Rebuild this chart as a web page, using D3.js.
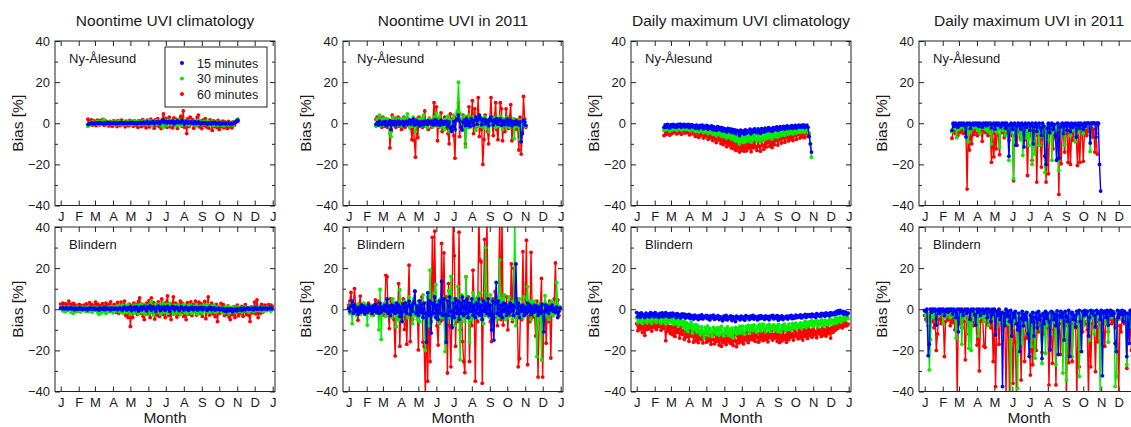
<!DOCTYPE html>
<html><head><meta charset="utf-8">
<script src="https://cdn.jsdelivr.net/npm/d3@7"></script>
<style>
html,body{margin:0;padding:0;background:#fff;}
svg{display:block;font-family:"Liberation Sans",Arial,Helvetica,sans-serif;}
</style></head>
<body>
<svg id="chart" width="1131" height="427"></svg>
<script>
// ---------- categories / labels ----------
const monthLabels = ["J","F","M","A","M","J","J","A","S","O","N","D","J"];
const monthStartDays = [1,32,60,91,121,152,182,213,244,274,305,335,366];
const panelTitles = ["Noontime UVI climatology","Noontime UVI in 2011","Daily maximum UVI climatology","Daily maximum UVI in 2011"];
const stationNames = ["Ny-Ålesund","Blindern"];
const seriesNames = ["15 minutes","30 minutes","60 minutes"];
const yMajorTicks = [-40,-20,0,20,40];
const yMinorTicks = [-30,-10,10,30];
const nyFirstDay = 48;   // first day of year with data at Ny-Ålesund
const blFirstDay = 1;    // first day of year with data at Blindern
const dayStep = 2;       // values are read every second day

// ---------- Ny-Ålesund, noontime UVI climatology ----------
const nyNoonClim15 = [
-0.5,-0.3,-0.2,0.1,-0.2,0.0,-0.3,0.1,-0.1,0.2,
-0.1,0.0,0.2,-0.2,0.1,0.3,-0.1,0.0,0.2,-0.2,
0.1,-0.1,0.2,0.0,-0.3,0.1,0.2,-0.1,0.0,0.3,
-0.2,0.1,0.3,0.0,-0.1,0.2,0.4,-0.1,0.1,0.3,
0.0,0.2,-0.2,0.3,0.1,0.4,-0.1,0.2,0.5,0.0,
0.3,0.6,-0.2,0.4,0.1,0.5,0.8,0.0,0.3,0.6,
0.2,0.7,-0.3,0.5,1.2,1.5,0.4,0.8,0.1,0.6,
0.9,0.2,0.5,1.0,-0.2,0.6,0.3,1.1,0.4,0.2,
0.8,1.3,0.3,-0.4,0.6,0.9,0.1,0.5,0.2,0.7,
0.0,0.4,0.8,-0.2,0.3,0.6,0.1,-0.3,0.4,0.2,
-0.2,0.3,0.1,-0.4,0.2,0.0,-0.3,0.3,-0.1,0.2,
-0.3,0.1,-0.2,0.2,-0.4,0.0,-0.2,0.1,-0.3,0.0,
-0.2,0.1,-0.3,0.0,-0.4,-0.1,0.2,0.5,1.0,1.5];
const nyNoonClim30 = [
-1.5,-0.8,0.2,-0.5,0.6,-0.7,0.3,-0.4,0.8,-0.3,
0.5,-0.6,0.9,0.2,1.8,-0.2,0.4,-0.5,0.7,0.0,
-0.4,0.6,-0.3,0.5,-0.8,0.3,0.9,-0.2,0.4,-0.6,
0.2,0.8,-0.5,0.3,0.6,-0.4,1.0,0.1,-0.7,0.5,
0.9,-0.3,0.4,1.2,-0.6,0.2,0.8,-0.4,1.1,0.3,
-0.5,0.9,0.2,1.4,-0.8,0.6,1.0,-0.3,0.7,1.3,
-0.6,0.5,1.2,-1.0,0.8,-2.0,1.5,0.3,-0.9,1.1,
0.4,1.6,-0.7,0.9,0.2,1.3,-1.2,0.6,1.8,-0.4,
0.8,-1.0,1.4,0.3,-0.6,1.0,0.5,-0.8,1.2,0.1,
-0.5,0.9,0.3,-1.2,0.6,1.4,-0.3,0.8,-0.7,0.4,
0.9,-0.5,0.2,1.0,-0.9,0.4,-0.3,0.7,-1.1,0.3,
-0.6,0.5,-1.0,0.2,0.6,-0.8,0.1,-1.2,0.4,-0.5,
0.3,-0.9,0.2,-0.6,0.4,-1.0,0.5,0.9,1.6,2.0];
const nyNoonClim60 = [
2.0,1.0,-0.5,1.6,-1.0,1.2,0.4,-1.2,1.5,0.2,
-0.8,1.4,0.0,1.9,-1.0,1.1,-0.6,0.8,-1.3,0.9,
0.4,-1.4,1.2,-0.3,0.9,-1.6,1.3,0.2,-1.1,1.5,
-0.4,0.8,-1.7,1.0,0.3,-1.2,1.4,-0.6,0.9,-1.5,
1.2,-0.8,0.6,-2.0,1.3,0.1,-1.6,1.7,-0.9,0.8,
-2.2,1.5,0.3,-1.8,2.0,-0.7,1.0,-2.4,1.6,-1.0,
2.2,-1.5,0.6,-2.6,1.8,4.5,-1.2,2.4,-2.0,0.9,
3.0,-1.8,1.4,-2.2,2.6,-0.8,1.9,-2.5,0.7,2.0,
3.4,-1.4,6.0,-2.0,1.2,-5.0,2.2,-1.6,3.0,-0.5,
1.8,-2.4,0.9,-1.2,2.8,4.0,-1.8,1.0,-2.6,1.5,
-1.0,2.2,-1.8,0.6,-2.4,1.6,-0.4,-3.5,1.2,-1.6,
0.8,-2.0,1.4,-3.0,0.4,-1.6,1.0,-2.2,0.6,-1.4,
-2.5,0.9,-1.8,0.2,-2.2,0.6,-1.0,0.3,1.2,0.8];

// ---------- Ny-Ålesund, noontime UVI 2011 ----------
const nyNoon2011_15 = [
-0.5,0.3,-0.8,1.0,0.2,-0.6,0.5,-0.3,0.8,-1.0,
0.4,-0.5,1.2,-3.0,0.6,-0.4,0.9,-0.8,0.3,1.1,
-0.6,0.5,-0.2,0.8,-1.2,0.4,1.0,-0.5,0.7,1.5,
-0.4,0.6,2.0,-0.8,0.3,1.2,-0.6,0.5,-1.0,0.8,
0.2,-0.7,1.0,0.4,-0.5,1.3,-0.2,0.6,1.0,-0.8,
0.5,1.8,-0.6,0.9,0.2,-1.0,1.4,0.3,-0.5,0.8,
-0.3,1.0,-1.5,0.6,-2.5,-4.0,-1.5,0.8,-3.0,1.5,
2.0,4.0,1.2,-2.0,-3.0,0.5,1.5,-1.2,2.0,-0.8,
1.0,-1.5,2.2,0.3,-1.0,1.5,3.0,-0.5,1.8,4.0,
2.5,-0.8,1.2,2.0,-0.3,1.5,0.6,-1.2,2.0,3.0,
1.0,-0.8,1.6,0.4,2.2,-0.5,1.0,2.0,-1.0,0.6,
1.2,-0.6,0.8,2.0,-0.8,0.5,1.5,-1.2,0.3,0.8,
-0.5,1.2,0.2,-0.8,0.6,-9.0,-5.0,1.5,0.5,-1.0];
const nyNoon2011_30 = [
-1.5,2.0,0.8,4.0,-1.2,1.5,-0.8,2.5,0.3,-1.0,
1.8,-0.5,-5.0,-6.5,1.2,3.0,-0.8,1.5,0.2,2.0,
-1.0,1.8,0.5,-1.5,2.5,0.8,-0.6,4.5,1.2,-2.0,
1.0,-1.5,3.0,0.5,-4.0,1.5,-0.8,2.0,0.6,-1.2,
2.5,4.0,-1.0,1.2,-2.0,0.8,2.2,-0.5,1.5,-1.8,
3.0,0.5,5.0,-1.5,1.0,3.5,-2.0,0.8,1.5,-3.0,
2.0,-1.0,3.5,-4.0,1.5,-2.5,0.8,4.0,-3.0,1.0,
6.0,20.0,5.0,-3.0,2.0,-1.5,3.5,-11.5,-2.0,1.0,
4.0,-2.0,2.5,-1.0,3.0,1.5,-3.5,2.0,0.5,4.0,
-1.5,2.5,0.8,-2.5,3.0,-1.0,1.5,-4.0,2.0,0.5,
-1.0,3.0,1.0,-2.0,2.5,0.5,-1.5,3.5,1.0,-3.0,
2.0,0.8,-1.5,3.0,0.5,-2.0,1.5,-1.0,2.0,-7.5,
0.5,-1.5,1.8,-2.0,-8.0,1.0,-3.0,1.5,0.8,-1.5];
const nyNoon2011_60 = [
2.0,3.0,-1.0,2.5,0.5,-2.0,3.0,1.0,-1.5,2.0,
-2.0,1.5,-12.0,-4.0,4.0,-1.0,2.5,-2.0,1.0,3.0,
-1.5,2.0,-3.0,1.0,3.0,-2.0,0.5,2.5,-1.0,1.5,
-2.5,-8.0,1.0,-8.5,-16.5,2.0,-7.0,3.0,-1.5,1.0,
-2.0,3.0,6.0,-1.5,1.0,-3.0,2.5,0.5,-2.0,1.5,
10.0,-1.0,8.0,-8.5,2.0,-2.0,5.0,-4.0,1.0,3.0,
-2.5,1.5,-5.0,-10.0,4.5,-1.0,2.0,-6.0,-17.0,3.0,
5.0,10.0,-6.5,2.0,-3.5,4.0,-1.5,-10.0,3.0,-2.0,
8.0,-1.0,2.5,11.0,-5.0,7.0,-2.0,1.5,12.5,-6.5,
2.0,-3.0,-20.0,-8.0,4.0,0.5,-4.0,-10.0,2.0,12.5,
-1.0,-6.0,3.0,10.0,-3.0,-8.0,1.0,10.0,7.0,-8.5,
2.0,-4.0,7.0,0.0,-2.5,3.0,9.0,-8.5,-1.0,2.0,
-3.0,1.5,-2.0,-13.0,3.0,-15.0,-4.0,13.0,2.0,-2.0];

// ---------- Ny-Ålesund, daily maximum UVI climatology ----------
const nyMaxClim15 = [
-2.0,-0.8,-1.9,-0.6,-1.4,-2.3,-0.7,-1.6,-0.5,-1.8,
-0.9,-2.0,-0.6,-1.5,-0.4,-1.9,-1.0,-0.5,-1.7,-0.8,
-1.6,-0.6,-2.1,-1.0,-0.7,-1.8,-1.2,-2.4,-0.9,-1.5,
-2.6,-1.1,-1.9,-0.9,-2.7,-1.4,-2.2,-1.0,-2.9,-1.7,
-2.4,-1.3,-3.2,-1.8,-2.6,-3.5,-1.6,-2.9,-2.0,-3.4,
-2.2,-3.8,-2.6,-3.1,-4.2,-2.5,-3.6,-2.8,-4.4,-3.0,
-4.6,-3.2,-5.0,-3.5,-4.1,-6.0,-3.3,-4.8,-3.8,-5.4,
-3.2,-4.9,-3.6,-4.4,-2.9,-5.1,-3.4,-4.2,-2.7,-3.9,
-4.6,-2.8,-3.7,-4.9,-2.6,-3.5,-4.3,-2.4,-3.8,-3.0,
-2.2,-3.6,-2.7,-3.9,-2.1,-3.2,-2.5,-1.8,-3.4,-2.3,
-1.7,-2.9,-2.0,-1.5,-2.8,-1.9,-1.3,-2.6,-1.6,-2.2,
-1.2,-2.5,-1.6,-1.0,-2.3,-1.4,-0.9,-2.0,-1.1,-1.8,
-0.8,-2.1,-1.3,-0.9,-2.0,-6.5,-10.0,-14.0];
const nyMaxClim30 = [
-3.5,-1.8,-3.0,-1.6,-2.8,-3.8,-1.9,-3.2,-1.7,-2.9,
-2.0,-3.4,-1.8,-2.7,-1.5,-3.3,-2.2,-1.6,-3.0,-2.1,
-2.9,-1.8,-3.5,-2.3,-1.9,-3.2,-2.6,-4.0,-2.2,-3.1,
-4.3,-2.6,-3.6,-2.4,-4.6,-3.0,-4.0,-2.8,-5.0,-3.4,
-4.4,-3.0,-5.4,-3.6,-4.8,-6.0,-3.7,-5.2,-4.1,-6.2,
-4.6,-6.6,-5.0,-5.8,-7.2,-4.9,-6.6,-5.3,-7.6,-5.8,
-8.0,-6.0,-8.8,-6.5,-7.6,-10.0,-6.4,-8.6,-7.0,-9.4,
-6.4,-8.8,-6.8,-8.0,-5.8,-9.2,-6.6,-7.8,-5.6,-7.4,
-8.6,-5.8,-7.2,-8.8,-5.4,-7.0,-8.2,-5.2,-7.4,-6.0,
-4.8,-7.2,-5.6,-7.6,-4.6,-6.6,-5.2,-4.2,-6.8,-4.9,
-3.9,-6.0,-4.4,-3.6,-5.8,-4.2,-3.2,-5.4,-3.6,-4.8,
-3.0,-5.2,-3.6,-2.6,-4.8,-3.2,-2.4,-4.4,-2.8,-4.0,
-2.4,-4.4,-3.0,-2.3,-4.2,-5.0,-10.0,-16.5];
const nyMaxClim60 = [
-6.0,-3.0,-5.4,-2.8,-4.6,-5.8,-3.2,-5.0,-2.7,-4.4,
-3.4,-5.2,-2.9,-4.6,-2.6,-5.4,-3.6,-2.8,-4.8,-3.3,
-4.6,-3.0,-5.6,-3.7,-3.1,-5.2,-4.2,-6.4,-3.6,-5.0,
-6.8,-4.2,-5.8,-3.9,-7.2,-4.8,-6.4,-4.5,-7.8,-5.4,
-7.0,-4.9,-8.4,-5.8,-7.6,-9.4,-6.0,-8.2,-6.6,-9.8,
-7.4,-10.4,-8.0,-9.2,-11.4,-7.9,-10.6,-8.5,-12.0,-9.2,
-12.4,-9.4,-13.2,-10.0,-11.8,-14.0,-10.2,-13.0,-10.8,-13.6,
-9.8,-13.4,-10.2,-12.2,-8.8,-13.8,-10.0,-12.0,-8.6,-11.4,
-13.2,-9.0,-11.2,-13.6,-8.6,-10.8,-12.6,-8.2,-11.6,-9.4,
-7.8,-11.2,-8.8,-11.8,-7.4,-10.4,-8.4,-6.8,-10.6,-7.8,
-6.4,-9.6,-7.2,-6.0,-9.2,-6.8,-5.4,-8.6,-6.0,-7.8,
-5.2,-8.4,-6.0,-4.6,-7.8,-5.4,-4.2,-7.2,-4.8,-6.6,
-4.2,-7.0,-5.0,-4.0,-6.4,-5.0];

// ---------- Ny-Ålesund, daily maximum UVI 2011 ----------
const nyMax2011_15 = [
-3.5,0.0,-1.5,0.0,-0.5,-2.0,0.0,-1.0,0.0,-0.8,
0.0,-1.2,-6.7,0.0,-0.5,0.0,-2.5,-0.4,0.0,-1.0,
0.0,-0.6,0.0,-1.5,0.0,-0.3,-2.0,0.0,-0.8,0.0,
-1.2,0.0,-0.4,0.0,-2.2,-0.6,0.0,-3.0,0.0,-1.0,
0.0,-0.5,-1.8,0.0,-0.8,0.0,-2.5,0.0,-1.2,-16.0,
-0.5,0.0,-3.0,-0.8,0.0,-10.7,-1.5,0.0,-0.6,-2.8,
0.0,-1.0,-11.5,0.0,-2.0,-0.5,0.0,-3.5,-1.0,0.0,
-10.0,-1.5,0.0,-4.0,-0.8,0.0,-2.2,-6.0,0.0,-1.4,
-16.0,-20.0,-2.5,0.0,-4.5,-1.0,0.0,-3.0,-0.5,-6.0,
-18.0,0.0,-17.0,-2.0,-0.6,0.0,-5.0,-1.2,0.0,-3.5,
0.0,-1.0,-4.0,0.0,-2.0,-0.5,0.0,-6.7,-1.0,0.0,
-2.5,0.0,-0.8,-3.0,0.0,-1.5,0.0,0.0,0.0,-9.6,
0.0,0.0,0.0,0.0,-6.7,0.0,0.0,-20.0,-33.0];
const nyMax2011_30 = [
-4.0,-1.0,-2.5,-1.5,-7.0,-0.5,-3.0,-1.2,-2.0,-0.8,
-1.5,-3.0,-0.5,-2.0,-9.0,-1.0,-4.0,-0.6,-2.5,-1.2,
-0.5,-2.0,-3.5,-1.0,-5.0,-0.8,-2.5,-1.5,-0.5,-3.0,
-1.2,-4.0,-0.6,-2.0,-10.0,-1.0,-3.0,-0.5,-2.2,-4.5,
-1.0,-11.5,-2.0,-0.8,-3.5,-1.5,-6.0,-0.6,-2.5,-18.0,
-1.5,-4.0,-1.0,-27.0,-2.0,-0.8,-5.0,-1.2,-3.0,-8.0,
-1.0,-15.6,-2.5,-0.6,-7.0,-1.5,-10.7,-3.0,-0.8,-20.0,
-2.0,-15.0,-1.0,-4.0,-0.6,-10.7,-2.5,-1.0,-6.0,-1.5,
-24.0,-3.0,-1.0,-8.0,-2.0,-0.5,-18.0,-1.5,-4.0,-0.8,
-3.0,-1.0,-23.0,-2.5,-0.6,-5.0,-1.5,-10.7,-0.8,-3.5,
-2.0,-0.5,-6.0,-1.5,-3.0,-0.8,-9.0,-2.0,-1.0,-4.5,
-0.6,-3.0,-1.5,-5.0,-0.8,-2.0,-1.0,-0.5,-0.3,-13.7,
-0.5,-0.3,0.0,-0.5,-1.0,0.0,-0.5];
const nyMax2011_60 = [
-7.3,-4.0,-2.5,-5.0,-3.0,-6.0,-2.0,-4.5,-3.5,-2.2,
-5.0,-3.0,-4.0,-32.0,-2.5,-13.0,-4.0,-10.0,-3.0,-5.5,
-2.5,-4.0,-6.0,-3.0,-5.0,-2.0,-8.8,-3.5,-2.0,-4.5,
-3.0,-6.0,-2.5,-4.0,-19.0,-3.5,-16.4,-5.0,-12.4,-3.0,
-6.0,-15.3,-2.5,-4.5,-3.0,-7.0,-2.0,-5.0,-3.5,-8.3,
-4.0,-2.5,-6.0,-28.0,-3.0,-5.0,-10.7,-2.5,-4.0,-7.0,
-3.0,-5.5,-2.0,-8.0,-3.5,-25.4,-4.0,-6.0,-2.5,-18.0,
-5.0,-3.0,-4.0,-28.6,-6.0,-2.5,-8.0,-21.3,-3.5,-5.0,
-4.0,-28.6,-6.0,-24.6,-3.0,-5.0,-2.5,-12.4,-4.0,-7.0,
-3.0,-5.0,-34.6,-4.0,-19.7,-2.5,-6.0,-14.0,-3.0,-5.0,
-19.0,-3.5,-20.0,-5.0,-8.3,-2.5,-4.0,-6.0,-20.5,-3.0,
-19.0,-4.0,-2.5,-18.5,-5.0,-3.0,-6.0,-2.5,-4.0,-3.0,
-2.0,-6.7,-3.0,-14.0,-5.0,-15.0];

// ---------- Blindern, noontime UVI climatology ----------
const blNoonClim15 = [
0.5,0.3,0.6,0.2,0.4,0.7,0.1,0.5,0.3,0.6,
0.2,0.4,-0.2,0.5,0.3,0.1,0.6,0.2,0.4,0.0,
0.5,0.2,0.4,-0.3,0.3,0.6,0.1,0.4,0.2,0.5,
0.0,0.4,0.2,-0.4,0.5,0.3,0.1,0.6,-0.2,0.3,
0.5,0.1,0.4,-0.3,0.6,0.2,0.0,0.5,0.3,-0.2,
0.4,0.7,0.1,-0.5,0.6,1.0,0.2,-0.4,0.8,0.3,
1.2,-0.6,0.5,0.9,-0.2,1.3,0.4,-0.8,0.7,1.1,
-0.3,0.8,1.4,0.2,-0.7,1.0,0.5,1.6,-0.4,0.6,
1.2,0.1,-0.9,0.9,1.5,0.3,-0.6,1.0,0.4,1.3,
-0.5,0.8,1.4,0.2,-1.0,0.9,0.5,1.2,-0.3,0.7,
1.0,0.2,-0.6,0.8,1.1,0.3,-0.4,0.6,0.9,0.1,
-0.5,0.7,0.3,1.0,-0.2,0.5,0.8,0.0,-0.4,0.6,
0.3,0.9,-0.3,0.4,0.7,0.1,-0.5,0.5,0.2,0.8,
-0.2,0.4,0.6,-0.4,0.3,0.1,0.5,-0.3,0.2,0.4,
-0.6,0.1,-1.0,0.3,-0.8,0.0,-0.5,0.2,-1.2,-0.3,
0.1,-0.7,0.3,-0.4,0.0,0.4,-0.6,0.2,0.5,-0.2,
0.3,0.6,0.0,0.4,0.2,0.5,-0.3,0.3,0.6,0.1,
0.4,0.2,0.6,0.0,0.3,0.5,0.2,0.4,0.1,0.5,
0.3,0.6,0.2];
const blNoonClim30 = [
1.2,0.4,-0.8,1.0,-1.2,0.6,-0.5,1.3,0.2,-1.5,
0.8,-2.0,0.5,-1.0,1.1,-0.4,0.7,-1.3,0.3,1.0,
-0.6,0.9,-1.1,0.4,1.2,-0.8,0.6,-1.4,0.2,1.0,
-0.5,0.8,-1.6,-2.5,0.5,-1.8,0.9,-1.0,0.3,-2.0,
0.7,-1.2,1.0,-0.5,1.4,-1.7,0.4,1.1,-0.9,0.6,
1.5,-1.3,0.2,2.0,-2.0,0.8,1.6,-1.5,2.2,-0.6,
-2.5,1.4,0.5,-1.8,2.0,-0.9,1.7,-2.2,0.6,2.5,
-1.6,0.9,2.3,-2.6,1.2,-0.7,2.0,-1.9,4.0,0.4,
-2.8,1.6,2.6,-1.2,0.3,2.2,-2.4,1.0,2.8,-1.5,
0.6,2.4,-2.0,1.3,3.0,-1.0,0.8,-2.5,1.9,0.2,
-1.8,2.1,0.7,-2.6,1.5,-0.5,2.3,-1.4,0.9,-2.2,
1.7,-0.8,2.0,-2.0,0.6,1.4,-1.5,2.2,-2.4,0.9,
-1.2,1.6,-2.0,0.4,1.8,-0.9,2.4,-1.6,0.7,-1.3,
1.5,-0.6,1.9,-1.5,0.8,-1.1,1.3,-0.4,1.0,-1.6,
0.5,-1.8,1.0,-0.7,1.4,-2.0,0.3,-1.2,0.9,-0.5,
-1.4,0.8,-0.4,1.2,-1.0,0.5,-1.5,0.7,-0.3,1.0,
-0.8,0.6,-1.3,0.9,-0.4,1.1,-1.0,0.3,-0.6,0.8,
-0.3,1.0,-0.7,0.5,-1.1,0.8,0.2,-0.5,1.0,-0.2,
0.6,-1.0,0.4];
const blNoonClim60 = [
2.5,1.8,3.0,1.2,2.6,0.8,2.2,4.0,1.0,2.5,
0.5,2.8,-0.5,2.0,1.2,-0.8,2.4,0.6,1.8,-0.4,
2.0,0.8,2.6,-1.0,1.5,3.2,0.4,2.2,-0.6,1.6,
3.5,0.9,2.5,-1.2,1.8,0.5,2.7,-0.8,1.4,3.0,
0.6,2.2,-1.0,3.6,0.8,-0.5,2.4,1.2,-1.5,3.3,
-2.0,1.5,3.5,-1.0,2.0,4.0,-3.0,1.2,-4.0,2.5,
-8.4,1.8,-4.0,3.0,-1.5,2.2,-2.6,3.8,5.5,-2.0,
2.5,-3.5,-5.0,1.8,3.0,-2.2,4.2,-4.0,5.5,-1.5,
3.2,-4.8,2.0,-2.8,3.6,-3.5,1.5,5.0,-2.5,2.8,
-4.0,3.5,6.5,-3.0,1.8,-5.0,2.6,6.0,-2.2,3.0,
-3.8,2.2,-2.6,4.0,-1.5,2.8,-3.5,1.6,-5.0,3.2,
-2.4,1.8,3.6,-3.0,2.2,-1.2,4.0,-2.8,1.5,3.4,
-2.0,2.6,-3.4,1.2,3.8,-4.6,2.0,6.0,-2.8,1.6,
3.0,-2.2,1.4,-3.6,2.4,-6.0,1.0,-2.0,2.8,-1.2,
2.2,-3.0,0.8,-2.4,1.6,-3.8,-5.0,0.6,-2.6,1.2,
-4.0,-1.5,2.0,-3.2,0.5,-2.0,1.4,-3.4,-1.0,2.2,
-2.5,0.6,-3.0,-6.0,1.2,-1.8,0.4,3.5,-2.2,4.6,
-4.0,1.0,-2.0,2.4,-1.4,0.8,2.0,-0.6,1.6,2.2,
0.8,2.0,1.5];

// ---------- Blindern, noontime UVI 2011 ----------
const blNoon2011_15 = [
0.5,-1.0,1.5,4.0,-2.0,2.0,-1.0,0.5,-2.5,1.0,
-1.5,2.0,-1.0,1.5,-2.0,0.5,-1.5,2.0,-0.5,1.0,
-2.0,1.5,-1.0,2.5,-1.5,1.0,-2.0,3.0,-1.5,1.0,
-0.5,2.0,-1.0,5.0,-2.0,1.5,-3.0,2.0,-1.0,1.5,
-2.0,3.0,-1.5,2.0,-3.5,1.0,-6.0,2.5,-1.0,3.0,
-2.0,1.5,4.0,-2.5,2.0,-1.0,3.0,8.8,-2.0,1.5,
-3.0,4.0,-1.5,2.5,-4.0,3.0,-2.0,-16.0,8.0,-3.0,
4.0,-11.6,3.0,-2.0,6.0,-4.0,2.0,-5.0,4.0,-2.0,
13.5,-3.0,5.0,-2.5,-16.0,4.0,-3.0,6.0,-1.0,-9.0,
3.0,-4.0,5.0,-2.0,4.0,-5.0,3.0,-2.0,6.0,-3.0,
4.0,-2.0,5.0,-4.0,3.0,-1.0,5.0,-3.0,2.0,-4.0,
3.0,-2.0,5.0,-3.0,2.0,-5.0,4.0,-1.0,3.0,-2.0,
5.0,-3.0,2.0,-10.0,4.0,-15.0,3.0,13.0,-2.0,4.0,
-3.0,2.0,-4.0,3.0,-1.0,2.5,-3.0,1.5,-2.0,3.0,
-1.0,2.0,-3.0,1.0,22.0,-2.0,3.0,-4.0,1.5,-1.0,
2.0,-3.0,1.0,-2.0,3.0,-1.0,2.0,-2.5,1.0,-1.5,
2.0,-1.0,1.5,-3.0,1.0,-2.0,2.5,-1.0,-11.0,2.0,
-1.0,1.5,-2.0,1.0,-0.5,2.0,-1.0,0.5,-1.5,1.0,
-4.0,-1.0,0.5];
const blNoon2011_30 = [
1.0,-2.0,3.0,-7.0,2.0,-1.5,1.0,-3.0,2.5,0.5,
-2.5,1.5,-1.0,3.0,-0.5,2.0,-7.7,1.0,-1.5,2.0,
-3.0,1.0,-1.0,2.5,-2.0,0.5,-10.0,9.6,-14.6,2.0,
-1.5,3.0,-3.5,1.0,4.0,-2.5,2.0,-4.0,5.0,-1.0,
3.0,-8.5,2.0,-5.0,9.5,-3.0,1.5,-6.0,4.0,-2.0,
2.5,-4.0,6.0,-2.5,3.0,-7.0,5.0,-3.0,2.0,-5.0,
4.0,-6.0,3.0,-3.0,7.0,-5.0,-20.0,-4.0,6.0,-8.0,
19.0,-6.0,4.0,-3.0,8.0,12.0,-5.0,3.0,-7.0,5.0,
-4.0,6.0,-3.0,-20.6,4.0,-6.0,9.0,-4.0,16.0,-2.0,
5.0,-8.0,3.0,-5.0,11.0,-3.0,-24.6,7.0,-4.0,4.0,
-6.0,15.7,-3.0,5.0,-16.0,3.0,-5.0,8.0,-2.0,5.0,
-4.0,6.0,-3.0,8.0,-5.0,3.0,-7.0,4.0,30.0,-3.0,
5.0,-4.0,7.0,-3.0,-6.0,4.0,-2.0,6.0,-5.0,3.0,
24.0,-4.0,5.0,-3.0,7.0,-5.0,2.0,-4.0,6.0,-2.0,
3.0,-5.0,4.0,45.0,-8.0,3.0,-4.0,5.0,-3.0,2.0,
-4.0,6.0,-3.0,2.0,11.0,-2.0,4.0,-5.0,3.0,-2.0,
4.0,-3.0,-23.0,2.0,-5.0,3.0,-24.6,2.0,-4.0,6.6,
-3.0,2.0,-5.0,3.0,-2.0,4.0,-3.0,1.0,-2.0,13.0,
2.0,-1.0,0.5];
const blNoon2011_60 = [
2.0,4.0,8.2,-1.0,3.0,10.0,1.5,-2.0,-5.3,2.5,
6.4,-1.5,2.0,0.5,-2.5,1.5,-1.0,3.0,0.0,-2.0,
1.5,-3.0,2.0,4.5,-1.0,3.0,4.0,-4.0,1.0,-2.5,
2.0,-3.0,16.5,15.8,-2.0,-9.4,5.0,-1.5,3.0,-5.0,
-22.7,2.0,-4.0,12.5,-18.0,3.0,-2.5,5.0,-9.8,1.5,
-17.0,2.5,21.4,-15.7,3.0,-5.0,4.0,8.8,-3.0,1.0,
-19.8,4.0,-2.0,6.0,-16.0,-18.0,-42.0,3.0,-35.0,5.0,
-25.4,-6.0,35.0,-3.0,38.0,2.0,-8.0,-17.4,4.0,-6.0,
32.0,-5.0,27.4,-4.0,6.0,-31.0,12.5,-8.0,-28.0,3.0,
45.0,26.0,-18.0,4.0,-6.0,37.5,-10.0,5.0,-15.7,-25.4,
-30.8,15.8,-4.0,6.0,-25.4,2.0,-8.0,19.0,3.0,-35.0,
4.0,-6.0,45.0,24.0,23.0,-36.0,5.0,34.0,-3.0,45.0,
-2.0,3.0,-6.0,-15.7,5.0,-4.0,8.5,2.0,-8.0,4.0,
45.0,-5.0,45.0,-7.7,3.0,-4.0,6.0,-10.0,2.0,-3.0,
22.0,-6.0,20.0,3.0,-4.0,5.0,-28.0,-24.0,2.0,-5.0,
28.0,-3.0,4.0,33.6,-27.0,3.0,-6.0,27.7,-4.0,2.0,
-3.0,-13.0,4.0,-33.0,-5.0,2.0,15.0,-33.0,-4.0,3.0,
-16.5,2.0,-6.0,4.0,-23.7,1.0,-3.0,5.0,22.5,-2.0,
4.5,-3.0,1.0];

// ---------- Blindern, daily maximum UVI climatology ----------
const blMaxClim15 = [
-1.6,-3.6,-2.2,-3.9,-1.8,-3.1,-2.6,-4.0,-1.9,-3.3,
-2.4,-3.8,-1.7,-3.0,-2.2,-3.7,-1.6,-3.2,-2.5,-3.9,
-2.0,-3.4,-1.8,-3.6,-2.6,-1.7,-3.3,-2.3,-3.8,-2.0,
-3.5,-1.9,-3.0,-2.4,-4.0,-2.1,-3.4,-2.7,-4.2,-2.3,
-3.6,-2.4,-4.3,-2.8,-3.9,-2.5,-4.6,-3.0,-3.6,-4.8,
-2.9,-4.2,-3.3,-5.0,-3.1,-4.4,-2.8,-4.7,-3.5,-4.0,
-3.0,-4.6,-3.4,-5.2,-3.2,-4.1,-2.9,-4.9,-3.6,-4.4,
-3.1,-5.0,-3.7,-4.3,-5.6,-3.4,-4.8,-3.0,-5.2,-3.8,
-4.4,-3.2,-5.5,-3.6,-4.7,-6.0,-3.4,-4.5,-3.9,-5.1,
-3.3,-4.6,-3.8,-5.3,-3.1,-4.2,-3.6,-5.0,-3.4,-4.4,
-3.0,-4.8,-3.5,-4.1,-5.2,-3.3,-4.6,-3.1,-4.3,-3.7,
-4.9,-3.2,-4.4,-3.6,-5.1,-3.4,-4.0,-3.0,-4.7,-3.5,
-4.3,-3.1,-5.3,-3.6,-4.6,-3.2,-5.0,-3.8,-4.2,-3.3,
-4.8,-3.4,-4.1,-3.0,-4.6,-3.5,-4.3,-2.9,-4.0,-3.2,
-3.8,-2.7,-4.2,-3.1,-3.6,-2.5,-3.9,-2.8,-3.4,-2.6,
-3.7,-2.4,-3.3,-2.8,-3.9,-2.2,-3.1,-2.6,-3.5,-2.0,
-3.0,-2.3,-3.4,-1.8,-2.9,-2.1,-3.2,-1.6,-2.7,-1.9,
-2.6,-1.4,-2.3,-0.8,-2.0,-0.5,-1.8,-1.1,-2.4,-1.3,
-1.5,-2.6,-1.9];
const blMaxClim30 = [
-4.0,-6.5,-3.6,-5.8,-4.4,-6.9,-3.4,-5.4,-4.8,-6.6,
-3.8,-5.6,-4.2,-6.8,-3.5,-5.2,-4.6,-6.4,-3.3,-5.0,
-4.4,-6.8,-3.6,-5.9,-4.8,-7.2,-3.9,-6.2,-4.5,-5.4,
-6.6,-4.2,-7.4,-5.0,-6.8,-4.6,-8.0,-5.4,-7.2,-6.0,
-8.4,-5.8,-9.6,-6.6,-10.8,-7.4,-9.0,-6.4,-11.6,-8.0,
-9.8,-7.4,-11.2,-8.2,-10.4,-12.4,-8.6,-10.8,-14.0,-9.0,
-11.6,-8.2,-12.8,-9.4,-10.6,-13.2,-8.8,-11.4,-9.6,-12.2,
-9.0,-12.6,-10.2,-8.4,-11.8,-13.0,-9.6,-11.2,-8.6,-12.4,
-10.0,-13.0,-9.2,-14.0,-10.6,-8.8,-12.0,-9.4,-11.6,-8.4,
-11.4,-8.2,-10.6,-12.2,-8.6,-10.0,-7.8,-11.6,-9.2,-8.0,
-10.4,-7.6,-9.8,-11.2,-8.2,-9.6,-7.4,-10.6,-8.8,-7.2,
-9.6,-11.0,-8.0,-9.4,-7.4,-10.8,-8.4,-9.0,-7.6,-10.2,
-8.4,-10.6,-7.4,-9.8,-11.2,-8.0,-9.4,-7.2,-10.4,-8.6,
-9.8,-7.2,-8.8,-10.2,-7.0,-9.4,-8.0,-6.8,-9.0,-7.6,
-8.6,-6.6,-9.2,-7.0,-8.0,-5.8,-8.8,-6.6,-7.8,-6.0,
-7.6,-5.6,-8.4,-6.2,-7.2,-5.4,-8.6,-6.0,-7.4,-5.2,
-6.8,-8.2,-5.4,-7.0,-5.8,-7.6,-4.8,-6.6,-5.2,-7.2,
-5.6,-4.2,-6.8,-4.6,-5.8,-3.8,-6.2,-4.4,-5.4,-3.6,
-5.0,-3.4,-4.6];
const blMaxClim60 = [
-7.0,-10.4,-6.4,-9.6,-7.8,-11.2,-6.8,-12.7,-8.0,-9.8,
-6.2,-9.4,-7.0,-10.6,-5.8,-8.8,-7.2,-9.8,-6.0,-8.4,
-7.4,-10.2,-6.4,-9.2,-8.0,-15.3,-7.2,-10.6,-8.4,-11.8,
-8.6,-12.4,-9.0,-13.2,-8.2,-11.4,-9.8,-14.0,-8.8,-12.2,
-10.4,-14.6,-9.6,-13.4,-11.2,-15.6,-10.0,-13.0,-11.8,-16.0,
-10.8,-15.2,-12.0,-16.2,-11.0,-14.6,-12.6,-16.4,-11.2,-13.8,
-16.0,-11.8,-15.4,-12.8,-17.0,-12.2,-14.8,-16.8,-12.4,-15.6,
-13.0,-17.4,-12.6,-18.0,-13.6,-16.2,-12.8,-17.2,-14.0,-15.8,
-12.2,-16.6,-13.4,-17.6,-12.4,-15.4,-18.2,-13.0,-16.4,-12.0,
-15.8,-11.6,-16.8,-12.8,-15.0,-11.2,-16.2,-13.2,-14.6,-11.0,
-14.8,-11.4,-15.6,-12.2,-13.6,-16.0,-11.6,-14.8,-12.0,-15.2,
-10.8,-14.6,-12.0,-15.8,-11.4,-13.8,-10.6,-15.0,-12.2,-14.0,
-11.0,-15.6,-12.4,-16.2,-11.8,-15.4,-10.8,-14.6,-12.6,-16.0,
-11.4,-14.8,-10.6,-13.6,-12.0,-15.0,-10.4,-13.2,-11.6,-14.4,
-10.2,-13.8,-11.2,-15.0,-9.8,-13.2,-10.6,-14.2,-9.6,-12.8,
-10.4,-13.6,-9.4,-12.4,-10.8,-13.8,-9.2,-12.0,-10.2,-13.2,
-9.0,-12.4,-10.0,-13.0,-8.6,-11.8,-9.6,-14.0,-8.8,-11.2,
-7.8,-10.2,-6.6,-9.4,-5.8,-8.6,-6.4,-9.0,-5.6,-8.2,
-6.6,-8.0,-7.2];

// ---------- Blindern, daily maximum UVI 2011 ----------
const blMax2011_15 = [
-0.5,-1.0,0.0,-22.6,-17.0,0.0,-1.5,0.0,-0.8,0.0,
-7.7,-0.5,0.0,-2.0,0.0,-1.0,0.0,-3.0,-0.5,0.0,
-1.5,0.0,-0.6,0.0,-2.5,0.0,-0.8,-4.0,0.0,-11.0,
0.0,-1.2,0.0,-3.0,-0.5,0.0,-2.0,0.0,-1.0,-5.0,
0.0,-0.8,0.0,-2.5,-7.7,0.0,-1.5,0.0,-3.0,-0.5,
0.0,-2.0,-0.6,0.0,-4.0,0.0,-1.2,-6.0,0.0,-2.5,
0.0,-12.5,-1.0,-3.0,0.0,-5.0,-1.5,-37.6,-2.0,-8.0,
0.0,-3.5,-1.0,-6.0,-0.5,-13.0,-2.0,-4.0,-1.0,-7.0,
-10.0,-2.0,-20.6,-4.5,-1.0,-8.0,-2.5,-5.0,-1.5,-12.0,
-23.0,-3.0,-6.0,-1.5,-13.0,-4.0,-2.0,-9.0,-1.0,-5.0,
-3.0,-24.0,-2.0,-7.0,-1.0,-4.5,-2.0,-6.0,-19.8,-1.0,
-1.5,-5.0,-2.5,-8.0,-0.8,-22.0,-3.0,-1.0,-4.0,-2.0,
-15.0,-1.0,-3.5,-6.0,-0.5,-23.0,-2.0,-1.5,-5.0,-3.0,
-8.5,-1.0,-2.0,-0.5,-6.0,-20.6,-1.0,-3.0,-0.5,-2.5,
-1.0,-13.0,-4.0,-0.5,-2.0,-1.0,-3.0,-8.5,-0.5,-2.0,
-1.5,-5.0,-0.5,-32.4,-2.0,-1.0,-4.0,-0.5,-7.7,-1.5,
-0.5,-3.0,-1.0,-2.0,-16.6,-20.6,-0.5,-4.0,-1.0,-2.5,
-0.5,-6.0,-1.0,-2.0,-23.0,-2.0,-16.6,-0.5,-3.0,-22.6,
-2.0,-0.5,-1.0];
const blMax2011_30 = [
-1.0,-3.0,-6.0,-2.0,-29.5,-14.6,-1.5,-4.0,-0.8,-2.5,
-6.0,-1.0,-3.0,-0.5,-2.0,-1.5,-7.0,-0.8,-3.5,-1.0,
-2.5,-0.5,-4.0,-1.2,-3.0,-0.6,-2.0,-14.0,-1.0,-5.0,
-0.8,-3.0,-17.0,-1.5,-4.0,-0.5,-2.5,-6.0,-19.0,-1.2,
-20.0,-2.0,-0.8,-5.0,-1.5,-3.0,-13.0,-0.6,-2.5,-4.0,
-1.0,-6.0,-0.5,-3.0,-2.0,-8.0,-1.0,-4.5,-0.8,-2.5,
-5.0,-1.5,-8.5,-3.0,-0.6,-6.0,-2.0,-10.0,-1.2,-4.0,
-2.5,-7.0,-1.0,-5.0,-42.0,-3.0,-9.0,-1.5,-6.0,-2.0,
-38.5,-4.0,-2.0,-10.0,-16.5,-3.0,-7.0,-1.5,-12.0,-5.0,
-22.0,-2.5,-18.0,-6.0,-3.0,-23.8,-1.5,-8.0,-4.0,-2.0,
-10.0,-26.3,-3.0,-6.0,-21.4,-2.0,-8.0,-4.0,-1.5,-12.0,
-3.0,-6.0,-1.5,-27.0,-4.0,-9.0,-2.0,-5.0,-1.0,-31.0,
-3.5,-7.0,-34.4,-2.0,-5.0,-10.0,-1.5,-23.0,-4.0,-2.5,
-6.0,-1.0,-3.5,-32.7,-2.0,-5.0,-1.5,-8.0,-0.8,-3.0,
-6.0,-1.0,-15.0,-2.5,-4.0,-0.8,-12.0,-2.0,-5.0,-1.0,
-3.5,-42.0,-1.5,-4.0,-0.8,-7.0,-2.0,-1.0,-16.0,-3.0,
-0.5,-4.0,-1.5,-2.5,-37.6,-32.7,-1.0,-5.0,-2.0,-0.8,
-3.5,-1.0,-6.0,-2.0,-27.0,-4.0,-1.5,-8.5,-0.5,-3.0,
-1.0,-2.0,-0.5];
const blMax2011_60 = [
-3.0,-5.0,-2.0,-8.0,-4.0,-1.5,-6.0,-3.0,-9.0,-4.5,
-20.0,-12.0,-5.0,-3.0,-7.0,-2.5,-4.0,-23.0,-6.0,-3.5,
-5.0,-2.0,-8.0,-4.0,-6.5,-3.0,-10.0,-5.0,-42.0,-3.0,
-7.0,-4.0,-9.0,-2.5,-6.0,-24.6,-3.5,-5.0,-12.0,-4.0,
-6.0,-3.0,-8.0,-5.0,-2.5,-17.4,-4.0,-30.0,-6.0,-3.0,
-5.0,-18.0,-18.5,-4.0,-7.7,-3.0,-6.0,-9.0,-4.0,-25.4,
-5.0,-37.6,-8.0,-4.0,-17.0,-6.0,-3.5,-10.0,-5.0,-7.0,
-42.0,-6.0,-9.0,-42.0,-4.0,-11.0,-36.0,-5.0,-16.0,-42.0,
-7.0,-12.0,-5.0,-34.4,-9.0,-6.0,-25.4,-8.0,-14.0,-5.0,
-10.0,-32.0,-6.0,-27.0,-9.0,-4.0,-20.0,-7.0,-11.0,-5.0,
-8.0,-21.0,-6.0,-12.0,-4.0,-9.0,-7.0,-36.8,-5.0,-10.0,
-26.3,-6.0,-8.0,-36.8,-4.0,-11.0,-7.0,-22.0,-5.0,-9.0,
-6.0,-4.0,-42.0,-8.0,-26.0,-5.0,-12.0,-25.4,-7.0,-4.0,
-9.0,-42.0,-6.0,-28.0,-5.0,-8.0,-11.0,-4.0,-7.0,-6.0,
-10.0,-42.0,-5.0,-28.0,-7.0,-4.0,-9.0,-30.3,-6.0,-15.8,
-5.0,-8.0,-17.4,-4.0,-7.0,-18.0,-6.0,-3.0,-11.0,-5.0,
-4.0,-7.0,-3.0,-6.0,-9.0,-5.0,-4.0,-42.0,-8.0,-11.0,
-5.0,-3.0,-7.0,-4.0,-28.7,-6.0,-3.0,-8.0,-20.0,-5.0,
-4.0,-3.0,-6.0];

// ---------- panel assembly (rows: station, cols: product) ----------
const panelData = [
  [[nyNoonClim15,nyNoonClim30,nyNoonClim60],[nyNoon2011_15,nyNoon2011_30,nyNoon2011_60],
   [nyMaxClim15,nyMaxClim30,nyMaxClim60],[nyMax2011_15,nyMax2011_30,nyMax2011_60]],
  [[blNoonClim15,blNoonClim30,blNoonClim60],[blNoon2011_15,blNoon2011_30,blNoon2011_60],
   [blMaxClim15,blMaxClim30,blMaxClim60],[blMax2011_15,blMax2011_30,blMax2011_60]]
];
const rowFirstDay = [nyFirstDay, blFirstDay];

// ---------- layout & style ----------
const W = 1131;
const colors = ["#0000ff","#00ee00","#ff0000"];
const panelLeft = [55, 343, 631, 919];
const panelTop = [41, 227];
const pw = 220, ph = 164.5;
const txt = "#1a1a1a";

const svg = d3.select("#chart");
const x = d3.scaleLinear().domain([-8.8, 370]).range([0, pw]);
const y = d3.scaleLinear().domain([-40, 40]).range([ph, 0]);

panelData.forEach((row, r) => {
  row.forEach((series, c) => {
    const g = svg.append("g").attr("transform", `translate(${panelLeft[c]},${panelTop[r]})`);
    const cid = `clip-${r}-${c}`;
    g.append("clipPath").attr("id", cid).append("rect").attr("width", pw).attr("height", ph);

    // axes (inward ticks on all sides)
    const fmtMonth = (d, i) => monthLabels[i];
    g.append("g").call(d3.axisLeft(y).tickValues(yMajorTicks).tickSize(-5).tickPadding(5));
    g.append("g").call(d3.axisLeft(y).tickValues(yMinorTicks).tickSize(-3).tickFormat(""));
    g.append("g").attr("transform", `translate(${pw},0)`).call(d3.axisRight(y).tickValues(yMajorTicks).tickSize(-5).tickFormat(""));
    g.append("g").attr("transform", `translate(${pw},0)`).call(d3.axisRight(y).tickValues(yMinorTicks).tickSize(-3).tickFormat(""));
    const xb = g.append("g").attr("transform", `translate(0,${ph})`)
      .call(d3.axisBottom(x).tickValues(monthStartDays).tickSize(-5).tickPadding(6).tickFormat(fmtMonth));
    // labels that would fall outside the window are not shown (as in the original)
    xb.selectAll(".tick text").filter(d => panelLeft[c] + x(d) + 6 > W).remove();
    g.append("g").call(d3.axisTop(x).tickValues(monthStartDays).tickSize(-5).tickFormat(""));
    g.selectAll(".domain").remove();
    g.selectAll(".tick line").attr("stroke", "#222").attr("stroke-width", 1);
    g.selectAll(".tick text").attr("font-size", "13px").attr("fill", txt)
      .attr("font-family", "Liberation Sans, Arial, sans-serif");

    // data: red first, then green, then blue on top
    const plot = g.append("g").attr("clip-path", `url(#${cid})`);
    [2, 1, 0].forEach(s => {
      const vals = series[s];
      const pts = vals.map((v, i) => [rowFirstDay[r] + i * dayStep, v]);
      plot.append("path").datum(pts)
        .attr("fill", "none").attr("stroke", colors[s]).attr("stroke-width", 1.4)
        .attr("stroke-linejoin", "round")
        .attr("d", d3.line().x(d => x(d[0])).y(d => y(d[1])));
      plot.append("g").selectAll("circle").data(pts).join("circle")
        .attr("cx", d => x(d[0])).attr("cy", d => y(d[1])).attr("r", 1.9)
        .attr("fill", colors[s]);
    });

    // frame
    g.append("rect").attr("width", pw).attr("height", ph)
      .attr("fill", "none").attr("stroke", "#222").attr("stroke-width", 1);

    // station label
    g.append("text").attr("x", 14).attr("y", 21.5).attr("font-size", "13px")
      .attr("fill", txt).text(stationNames[r]);

    // y title
    g.append("text").attr("transform", `translate(${-32},${ph / 2}) rotate(-90)`)
      .attr("text-anchor", "middle").attr("font-size", "15.5px").attr("fill", txt).text("Bias [%]");

    if (r === 0) {
      svg.append("text").attr("x", panelLeft[c] + pw / 2).attr("y", 26)
        .attr("text-anchor", "middle").attr("font-size", "15.5px").attr("fill", txt).text(panelTitles[c]);
    } else {
      g.append("text").attr("x", pw / 2).attr("y", ph + 31)
        .attr("text-anchor", "middle").attr("font-size", "15.5px").attr("fill", txt).text("Month");
    }

    // legend in first panel
    if (r === 0 && c === 0) {
      const lg = g.append("g").attr("transform", "translate(110,6)");
      lg.append("rect").attr("width", 102).attr("height", 60)
        .attr("fill", "#fff").attr("stroke", "#222").attr("stroke-width", 1);
      seriesNames.forEach((nm, i) => {
        lg.append("circle").attr("cx", 17).attr("cy", 16 + i * 15.5).attr("r", 2).attr("fill", colors[i]);
        lg.append("text").attr("x", 32).attr("y", 20.5 + i * 15.5).attr("font-size", "12.5px")
          .attr("fill", txt).text(nm);
      });
    }
  });
});
</script>
</body></html>
